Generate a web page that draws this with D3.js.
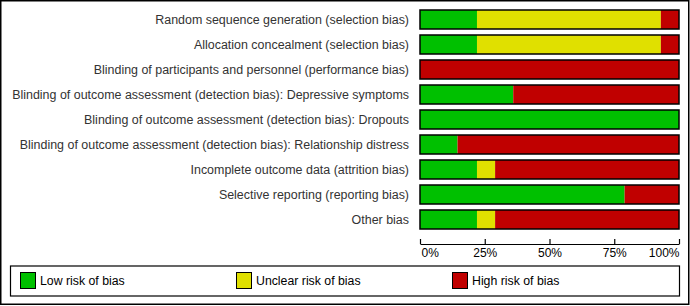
<!DOCTYPE html>
<html>
<head>
<meta charset="utf-8">
<script src="https://cdn.jsdelivr.net/npm/d3@7"></script>
<style>
  body { margin: 0; background: #fff; }
  svg { display: block; font-family: "Liberation Sans", Arial, sans-serif; }
</style>
</head>
<body>
<svg width="690" height="306"></svg>
<script>
// Risk of bias domains (top to bottom)
var domains = [
  "Random sequence generation (selection bias)",
  "Allocation concealment (selection bias)",
  "Blinding of participants and personnel (performance bias)",
  "Blinding of outcome assessment (detection bias): Depressive symptoms",
  "Blinding of outcome assessment (detection bias): Dropouts",
  "Blinding of outcome assessment (detection bias): Relationship distress",
  "Incomplete outcome data (attrition bias)",
  "Selective reporting (reporting bias)",
  "Other bias",
];
// percentages per judgement
var lowRisk = [22, 22, 0, 36, 100, 14.5, 22, 79, 22];
var unclearRisk = [71, 71, 0, 0, 0, 0, 7, 0, 7];
var highRisk = [7, 7, 100, 64, 0, 85.5, 71, 21, 71];
var tickValues = [0, 25, 50, 75, 100];
var legendLabels = ["Low risk of bias", "Unclear risk of bias", "High risk of bias"];
var colors = ["#00c000", "#e0e000", "#c00000"];

var svg = d3.select("svg");

// outer frame
svg.append("rect")
  .attr("x", 0.75).attr("y", 0.75)
  .attr("width", 688).attr("height", 303.5)
  .attr("fill", "none").attr("stroke", "#000").attr("stroke-width", 1.5);

var xScale = d3.scaleLinear().domain([0, 100]).range([420, 679]);
var yScale = d3.scaleBand().domain(domains).range([7, 232])
  .paddingInner(0.24).paddingOuter(0.12);

// build stacked rows
var rows = domains.map(function (d, i) {
  return { name: d, low: lowRisk[i], unclear: unclearRisk[i], high: highRisk[i] };
});
var stack = d3.stack().keys(["low", "unclear", "high"]);
var series = stack(rows);

svg.append("g")
  .selectAll("g")
  .data(series)
  .join("g")
  .attr("fill", function (d, i) { return colors[i]; })
  .selectAll("rect")
  .data(function (d) { return d; })
  .join("rect")
  .attr("x", function (d) { return xScale(d[0]); })
  .attr("y", function (d) { return yScale(d.data.name); })
  .attr("width", function (d) { return xScale(d[1]) - xScale(d[0]); })
  .attr("height", yScale.bandwidth());

// bar outlines
svg.append("g")
  .selectAll("rect")
  .data(domains)
  .join("rect")
  .attr("x", xScale(0))
  .attr("y", function (d) { return yScale(d); })
  .attr("width", xScale(100) - xScale(0))
  .attr("height", yScale.bandwidth())
  .attr("fill", "none")
  .attr("stroke", "#000")
  .attr("stroke-width", 1.5);

// row labels
svg.append("g")
  .selectAll("text")
  .data(domains)
  .join("text")
  .attr("x", 409)
  .attr("y", function (d) { return yScale(d) + yScale.bandwidth() / 2; })
  .attr("dy", "0.35em")
  .attr("text-anchor", "end")
  .attr("font-size", 12.45)
  .attr("fill", "#333")
  .text(function (d) { return d; });

// x axis
var xAxis = d3.axisBottom(xScale)
  .tickValues(tickValues)
  .tickFormat(function (d) { return d + "%"; })
  .tickSizeInner(-5)
  .tickSizeOuter(0)
  .tickPadding(4);

var axisG = svg.append("g")
  .attr("transform", "translate(0,244)")
  .call(xAxis);
axisG.select(".domain").attr("stroke", "#000").attr("stroke-width", 1.2);
axisG.selectAll(".tick line").attr("stroke", "#000").attr("stroke-width", 1.2);
axisG.selectAll(".tick text")
  .attr("font-size", 12)
  .attr("font-family", "'Liberation Sans', Arial, sans-serif")
  .attr("fill", "#000")
  .attr("text-anchor", function (d) { return d === 0 ? "start" : d === 100 ? "end" : "middle"; })
  .attr("dx", function (d) { return d === 0 ? 1 : 0; });

// legend box
svg.append("rect")
  .attr("x", 10.5).attr("y", 266)
  .attr("width", 669).attr("height", 30)
  .attr("fill", "none").attr("stroke", "#000").attr("stroke-width", 1.2);

var legendX = d3.scalePoint().domain(legendLabels).range([20, 452]);

var legendItems = svg.append("g")
  .selectAll("g")
  .data(legendLabels)
  .join("g")
  .attr("transform", function (d) { return "translate(" + legendX(d) + ",272)"; });

legendItems.append("rect")
  .attr("x", 0.5).attr("y", 0.5)
  .attr("width", 15).attr("height", 16)
  .attr("fill", function (d, i) { return colors[i]; })
  .attr("stroke", "#000");

legendItems.append("text")
  .attr("x", 20)
  .attr("y", 8.5)
  .attr("dy", "0.35em")
  .attr("font-size", 12.3)
  .attr("fill", "#000")
  .text(function (d) { return d; });
</script>
</body>
</html>
